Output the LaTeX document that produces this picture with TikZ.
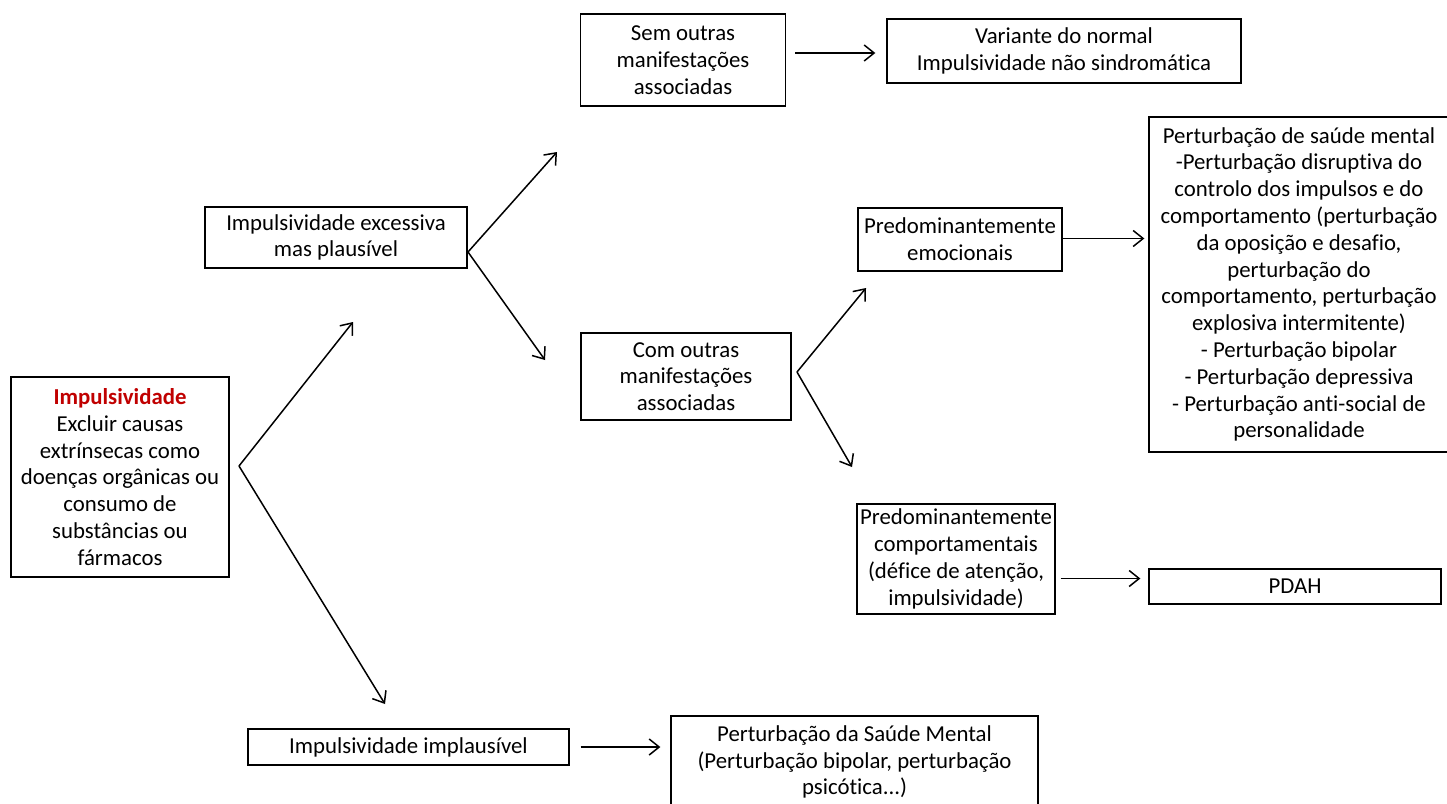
\documentclass[tikz,border=0pt]{standalone}
\usepackage{fontspec}
\setmainfont{Carlito}[Ligatures=NoCommon]
\usetikzlibrary{arrows.meta}
\definecolor{impred}{HTML}{C00000}
\begin{document}
\begin{tikzpicture}[x=1pt,y=-1pt,
  box/.style={draw, line width=1.3pt, align=center, inner sep=0pt,
    font=\fontsize{22.8}{26.8}\selectfont},
  arr/.style={line width=1.5pt, -{Straight Barb[length=10pt,width=16pt,line width=1.5pt]}},
]
\useasboundingbox (0,0) rectangle (1447,803);

\node[box, line width=2.6pt, minimum width=218pt, minimum height=200pt] (imp) at (120,477)
  {{\color{impred}\bfseries Impulsividade}\\Excluir causas\\extrínsecas como\\doenças orgânicas ou\\consumo de\\substâncias ou\\fármacos};
\node[box, minimum width=262pt, minimum height=61pt] (exc) at (336,237.5)
  {Impulsividade excessiva\\mas plausível};
\node[box, minimum width=205pt, minimum height=92pt] (sem) at (683,60)
  {Sem outras\\manifestações\\associadas};
\node[box, minimum width=354pt, minimum height=64pt] (var) at (1064,51)
  {Variante do normal\\Impulsividade não sindromática};
\node[box, minimum width=210pt, minimum height=87pt] (com) at (686,376.5)
  {Com outras\\manifestações\\associadas};
\node[box, minimum width=204pt, minimum height=63pt] (emo) at (960,239.5)
  {Predominantemente\\emocionais};
\node[box, minimum width=300pt, minimum height=335pt] (psm1) at (1299,284.5)
  {Perturbação de saúde mental\\-Perturbação disruptiva do\\controlo dos impulsos e do\\comportamento (perturbação\\da oposição e desafio,\\perturbação do\\comportamento, perturbação\\explosiva intermitente)\\- Perturbação bipolar\\- Perturbação depressiva\\- Perturbação anti-social de\\personalidade};
\node[box, minimum width=198pt, minimum height=110pt] (comp) at (956,559)
  {Predominantemente\\comportamentais\\(défice de atenção,\\impulsividade)};
\node[box, minimum width=292pt, minimum height=35pt] (pdah) at (1295,586.5) {PDAH};
\node[box, minimum width=321pt, minimum height=36pt] (impl) at (408.5,747)
  {Impulsividade implausível};
\node[box, minimum width=367pt, minimum height=92pt] (psm2) at (854.5,762)
  {Perturbação da Saúde Mental\\(Perturbação bipolar, perturbação\\psicótica...)};

% fork from Impulsividade
\coordinate (v1) at (239,466);
\coordinate (t1a) at (353,322);
\coordinate (t1b) at (385,704);
\draw[arr] (v1) -- (t1a);
\draw[arr] (v1) -- (t1b);

% fork from excessiva
\coordinate (v2) at (468,252);
\coordinate (t2a) at (557,152);
\coordinate (t2b) at (545,360);
\draw[arr] (v2) -- (t2a);
\draw[arr] (v2) -- (t2b);

% fork from com outras
\coordinate (v3) at (797,372);
\coordinate (t3a) at (866,288);
\coordinate (t3b) at (852,467);
\draw[arr] (v3) -- (t3a);
\draw[arr] (v3) -- (t3b);

% straight arrows
\draw[arr] ([xshift=9pt,yshift=7pt]sem.east) -- ([xshift=-11pt,yshift=-2pt]var.west);
\draw[arr] ([xshift=0pt,yshift=1pt]emo.east) -- ([xshift=-4pt,yshift=1pt]emo.east -| psm1.west);
\draw[arr] ([xshift=5pt,yshift=8pt]pdah.west -| comp.east) -- ([xshift=-8pt,yshift=8pt]pdah.west);
\draw[arr] ([xshift=11pt]impl.east) -- ([xshift=-10pt]psm2.west |- impl.east);
\end{tikzpicture}
\end{document}
